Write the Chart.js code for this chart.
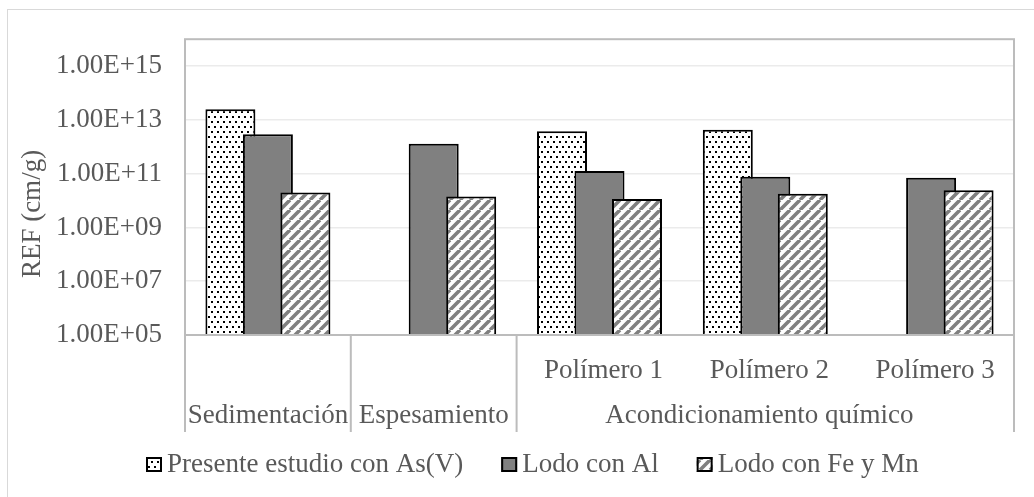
<!DOCTYPE html>
<html>
<head>
<meta charset="utf-8">
<script src="https://cdn.jsdelivr.net/npm/chart.js@4.4.1/dist/chart.umd.min.js"></script>
<style>
  html, body { margin: 0; padding: 0; background: #fff; }
  canvas { display: block; }
</style>
</head>
<body>
<canvas id="chart" width="1034" height="497"></canvas>
<script>
// datos
const categories = ['Sedimentación', 'Espesamiento', 'Polímero 1', 'Polímero 2', 'Polímero 3'];
const subLabels = ['', '', 'Polímero 1', 'Polímero 2', 'Polímero 3'];
const groupLabels = ['Sedimentación', 'Espesamiento', 'Acondicionamiento químico'];
const groupSizes = [1, 1, 3];

const presenteAsV = [2.5e13, null, 3.8e12, 4.3e12, null];
const lodoAl = [2.9e12, 1.3e12, 1.25e11, 7.6e10, 7e10];
const lodoFeMn = [2e10, 1.4e10, 1.15e10, 1.8e10, 2.4e10];

const tickValues = [1e5, 1e7, 1e9, 1e11, 1e13, 1e15];
const tickLabels = ['1.00E+05', '1.00E+07', '1.00E+09', '1.00E+11', '1.00E+13', '1.00E+15'];

const FONT = "'Liberation Serif', 'Times New Roman', serif";
const TXT = '#595959';

// --- patrones ---
function makePattern(w, h, paint) {
    const c = document.createElement('canvas');
    c.width = w; c.height = h;
    const g = c.getContext('2d');
    paint(g, w, h);
    return g.createPattern(c, 'repeat');
}
const ctx = document.getElementById('chart').getContext('2d');

const dotted = makePattern(6, 10, (g, w, h) => {
    g.fillStyle = '#fff'; g.fillRect(0, 0, w, h);
    g.fillStyle = '#000';
    g.fillRect(1, 1, 2, 2);
    g.fillRect(4, 6, 2, 2);
});
const hatched = makePattern(10, 10, (g, w, h) => {
    g.fillStyle = '#fff'; g.fillRect(0, 0, w, h);
    g.strokeStyle = '#808080'; g.lineWidth = 3.6;
    g.beginPath();
    for (let k = -1; k <= 1; k++) {
        g.moveTo(k * w, h); g.lineTo(k * w + w, 0);
    }
    g.stroke();
});

const series = [
    { label: 'Presente estudio con As(V)', data: presenteAsV, fill: dotted },
    { label: 'Lodo con Al', data: lodoAl, fill: '#808080' },
    { label: 'Lodo con Fe y Mn', data: lodoFeMn, fill: hatched }
];

const extras = {
    id: 'extras',
    // dibuja en orden 0,1,2 para que la serie de la derecha quede encima
    beforeDatasetsDraw(chart) {
        for (let i = 0; i < chart.data.datasets.length; i++) {
            chart.getDatasetMeta(i).controller.draw();
        }
        return false;
    },
    afterDraw(chart) {
        const c = chart.ctx;
        const a = chart.chartArea;
        const x = chart.scales.x;
        c.save();

        // borde externo
        c.strokeStyle = '#d9d9d9'; c.lineWidth = 1;
        c.strokeRect(7.5, 9.5, 1100, 600);

        // borde del área de trazado
        c.strokeStyle = '#bcbcbc'; c.lineWidth = 2;
        c.strokeRect(a.left, a.top, a.right - a.left, a.bottom - a.top);

        // separadores de grupos
        const labelBottom = a.bottom + 97;
        const half = (x.getPixelForValue(1) - x.getPixelForValue(0)) / 2;
        let idx = 0;
        const bounds = [a.left];
        groupSizes.forEach(n => { idx += n; bounds.push(x.getPixelForValue(idx - 1) + half); });
        c.beginPath();
        bounds.forEach(bx => { c.moveTo(bx, a.bottom); c.lineTo(bx, labelBottom); });
        c.stroke();

        // etiquetas de categorías
        c.fillStyle = TXT;
        c.font = '27px ' + FONT;
        c.textAlign = 'center'; c.textBaseline = 'middle';
        subLabels.forEach((s, i) => { if (s) c.fillText(s, x.getPixelForValue(i) + 4, a.bottom + 36); });
        groupLabels.forEach((g, i) => {
            const cx = (bounds[i] + bounds[i + 1]) / 2;
            c.fillText(g, i === 2 ? cx - 6 : cx, a.bottom + 81);
        });

        // título eje Y
        c.save();
        c.translate(33, 214);
        c.rotate(-Math.PI / 2);
        c.fillText('REF (cm/g)', 0, 0);
        c.restore();

        // leyenda
        let lx = 146;
        const ly = 464;
        c.textAlign = 'left';
        chart.data.datasets.forEach(ds => {
            c.fillStyle = ds.backgroundColor;
            c.fillRect(lx, ly - 7, 16, 15);
            c.strokeStyle = '#000'; c.lineWidth = 2;
            c.strokeRect(lx + 1, ly - 6, 14, 13);
            c.fillStyle = TXT;
            c.fillText(ds.label, lx + 21, ly + 1);
            lx += 21 + c.measureText(ds.label).width + 38;
        });
        c.restore();
    }
};

new Chart(ctx, {
    type: 'bar',
    data: {
        labels: categories,
        datasets: series.map(s => ({
            label: s.label,
            data: s.data,
            backgroundColor: s.fill,
            borderColor: '#000',
            borderWidth: 2,
            categoryPercentage: 0.6785,
            barPercentage: 1.333
        }))
    },
    options: {
        responsive: false,
        animation: false,
        layout: { padding: { left: 0, top: 38, right: 20, bottom: 0 } },
        plugins: { legend: { display: false }, tooltip: { enabled: false } },
        scales: {
            x: {
                grid: { display: false },
                border: { display: false },
                ticks: { display: false },
                afterFit: s => { s.height = 497 - 335; }
            },
            y: {
                type: 'logarithmic',
                min: 1e5,
                max: 1e16,
                bounds: 'data',
                afterBuildTicks: s => { s.ticks = tickValues.map(v => ({ value: v })); },
                afterFit: s => { s.width = 185; },
                grid: { color: '#ebebeb', lineWidth: 1.5, drawTicks: false },
                border: { display: false },
                ticks: {
                    padding: 23,
                    color: TXT,
                    font: { family: FONT, size: 27 },
                    callback: v => tickLabels[tickValues.indexOf(v)] ?? ''
                }
            }
        }
    },
    plugins: [extras]
});
</script>
</body>
</html>
